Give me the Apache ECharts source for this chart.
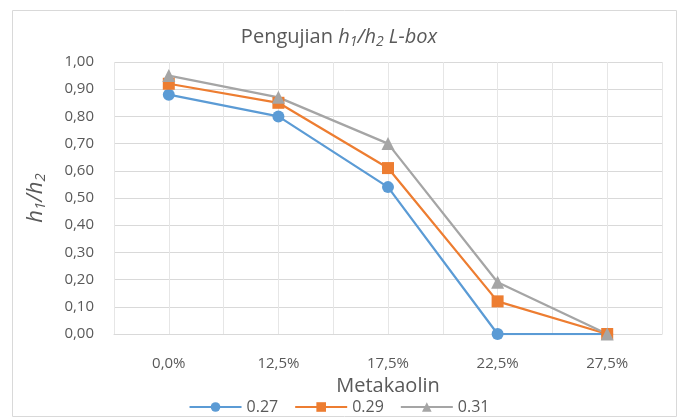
<!DOCTYPE html>
<html><head><meta charset="utf-8">
<script src="https://cdn.jsdelivr.net/npm/echarts@6/dist/echarts.min.js"></script>
<style>html,body{margin:0;padding:0;background:#fff}#c{width:678px;height:418px}</style>
</head><body><div id="c"></div>
<script>
const categories = ['0,0%', '12,5%', '17,5%', '22,5%', '27,5%'];
const s027 = [0.88, 0.80, 0.54, 0.00, 0.00];
const s029 = [0.92, 0.85, 0.61, 0.12, 0.00];
const s031 = [0.95, 0.87, 0.70, 0.19, 0.00];
const seriesNames = ['0.27', '0.29', '0.31'];
const yTicks = {min: 0, max: 1, interval: 0.1};

const FONT = "'Open Sans', 'Noto Sans', sans-serif";
const TXT = '#595959';
const chart = echarts.init(document.getElementById('c'));
const halfCats = [];
for (let i = 0; i < categories.length * 2; i++) halfCats.push(String(i));

function mk(name, data, color, symbol, size) {
  return {
    name, type: 'line', data, xAxisIndex: 0,
    symbol, symbolSize: size,
    lineStyle: {color, width: 2.25},
    itemStyle: {color},
    z: 3
  };
}

chart.setOption({
  animation: false,
  graphic: [{type: 'rect', shape: {x: 12.5, y: 10.5, width: 664, height: 406}, style: {fill: 'none', stroke: '#d9d9d9', lineWidth: 1}, z: -1}],
  title: {
    text: '{n|Pengujian }{i|h}{s|1}{i|/h}{s|2}{i| L-box}',
    left: 'center', top: 21,
    textStyle: {
      fontWeight: 'normal',
      rich: {
        n: {fontFamily: FONT, fontSize: 20, color: TXT, fontWeight: 'normal'},
        i: {fontFamily: FONT, fontSize: 20, color: TXT, fontStyle: 'italic', fontWeight: 'normal'},
        s: {fontFamily: FONT, fontSize: 14, color: TXT, fontStyle: 'italic', fontWeight: 'normal', verticalAlign: 'bottom', padding: [9, 0, 0, 0]}
      }
    }
  },
  grid: {left: 114, right: 16, top: 62, bottom: 84},
  legend: {
    bottom: -2, left: 'center',
    data: seriesNames,
    itemWidth: 52, itemHeight: 12, itemGap: 16,
    textStyle: {fontFamily: FONT, fontSize: 16, color: TXT}
  },
  xAxis: [{
    type: 'category', data: categories, boundaryGap: true,
    axisLine: {show: true, lineStyle: {color: '#d9d9d9', width: 1}},
    axisTick: {show: false},
    axisLabel: {color: TXT, fontFamily: FONT, fontSize: 15, margin: 22},
    splitLine: {show: false},
    name: 'Metakaolin', nameLocation: 'middle', nameGap: 40,
    nameTextStyle: {color: TXT, fontFamily: FONT, fontSize: 20}
  }, {
    type: 'category', data: halfCats, boundaryGap: true, position: 'bottom',
    axisLine: {show: false}, axisTick: {show: false}, axisLabel: {show: false},
    splitLine: {show: true, lineStyle: {color: '#e6e6e6', width: 1}}
  }],
  yAxis: {
    type: 'value', min: yTicks.min, max: yTicks.max, interval: yTicks.interval,
    axisLine: {show: false}, axisTick: {show: false},
    axisLabel: {color: TXT, fontFamily: FONT, fontSize: 15, margin: 20,
      formatter: v => v.toFixed(2).replace('.', ',')},
    splitLine: {lineStyle: {color: '#d9d9d9', width: 1}},
    name: '{i|h}{s|1}{i|/h}{s|2}', nameLocation: 'middle', nameGap: 66, nameRotate: 90,
    nameTextStyle: {
      rich: {
        i: {fontFamily: FONT, fontSize: 22, color: TXT, fontStyle: 'italic'},
        s: {fontFamily: FONT, fontSize: 15, color: TXT, fontStyle: 'italic', verticalAlign: 'bottom', padding: [10, 0, 0, 0]}
      }
    }
  },
  series: [
    mk(seriesNames[0], s027, '#5B9BD5', 'circle', 12),
    mk(seriesNames[1], s029, '#ED7D31', 'rect', 12),
    mk(seriesNames[2], s031, '#A5A5A5', 'triangle', 13)
  ]
});
</script></body></html>
